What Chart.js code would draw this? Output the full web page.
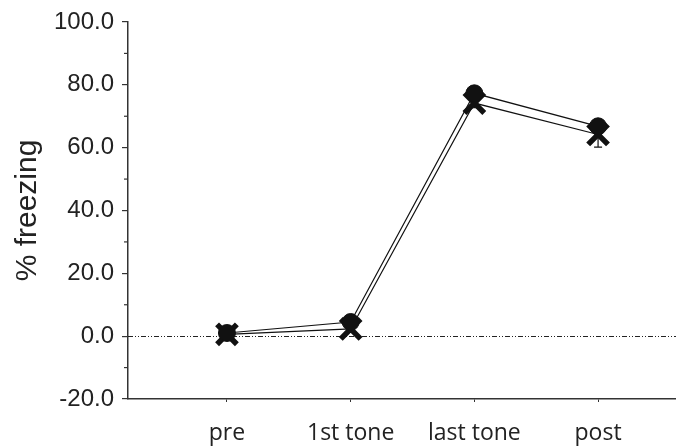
<!DOCTYPE html>
<html>
<head>
<meta charset="utf-8">
<script src="https://cdn.jsdelivr.net/npm/chart.js@4/dist/chart.umd.min.js"></script>
<style>
  html, body { margin: 0; padding: 0; background: #fff; }
  #wrap { width: 676px; height: 446px; }
</style>
</head>
<body>
<div id="wrap"><canvas id="c" width="676" height="446"></canvas></div>
<script>
// Phases of the session and mean % freezing for each group
const phases = ['pre', '1st tone', 'last tone', 'post'];
const phasePos = [1, 2, 3, 4];
const groupCircle = [1.0, 4.5, 77.3, 66.8];
const groupCross = [0.6, 2.3, 74.2, 64.2];
// standard error of the mean
const semCircle = [0.5, 1.0, 1.2, 1.5];
const semCross = [0.4, 0.8, 1.5, 4.0];
const yTicks = [-20, 0, 20, 40, 60, 80, 100];

const INK = '#111';

// Error bars (below each point) and the zero reference line
const extras = {
  id: 'extras',
  beforeDatasetsDraw(chart) {
    const { ctx, chartArea, scales: { x, y } } = chart;
    ctx.save();
    // zero line: dash-dot-dot
    const y0 = Math.round(y.getPixelForValue(0)) + 0.5;
    ctx.strokeStyle = '#222';
    ctx.lineWidth = 1;
    ctx.setLineDash([5, 2, 1, 2, 1, 2]);
    ctx.beginPath();
    ctx.moveTo(chartArea.left, y0);
    ctx.lineTo(chartArea.right, y0);
    ctx.stroke();
    ctx.setLineDash([]);
    // error bars
    const groups = [[groupCircle, semCircle], [groupCross, semCross]];
    ctx.strokeStyle = INK;
    ctx.lineWidth = 1.2;
    groups.forEach(([vals, errs]) => {
      vals.forEach((v, i) => {
        const px = x.getPixelForValue(phasePos[i]);
        const top = y.getPixelForValue(v);
        const bot = y.getPixelForValue(v - errs[i]);
        ctx.beginPath();
        ctx.moveTo(px, top);
        ctx.lineTo(px, bot);
        ctx.moveTo(px - 4, bot);
        ctx.lineTo(px + 4, bot);
        ctx.stroke();
      });
    });
    ctx.restore();
  },
  afterDraw(chart) {
    // minor ticks on the y axis
    const { ctx, scales: { y } } = chart;
    ctx.save();
    ctx.strokeStyle = '#333';
    ctx.lineWidth = 1.2;
    for (let v = -10; v <= 90; v += 20) {
      const py = y.getPixelForValue(v);
      ctx.beginPath();
      ctx.moveTo(y.right - 4, py);
      ctx.lineTo(y.right, py);
      ctx.stroke();
    }
    ctx.restore();
  }
};

new Chart(document.getElementById('c'), {
  type: 'line',
  data: {
    datasets: [
      {
        label: 'circle',
        data: phasePos.map((p, i) => ({ x: p, y: groupCircle[i] })),
        borderColor: INK,
        borderWidth: 1.2,
        pointStyle: 'circle',
        pointRadius: 8.5,
        pointBackgroundColor: INK,
        pointBorderColor: INK,
        pointBorderWidth: 1,
        tension: 0,
        order: 1
      },
      {
        label: 'cross',
        data: phasePos.map((p, i) => ({ x: p, y: groupCross[i] })),
        borderColor: INK,
        borderWidth: 1.2,
        pointStyle: 'crossRot',
        pointRadius: 14,
        pointBorderColor: INK,
        pointBorderWidth: 5.5,
        tension: 0,
        order: 2
      }
    ]
  },
  options: {
    responsive: false,
    animation: false,
    devicePixelRatio: 1,
    layout: { autoPadding: false, padding: { top: 22, right: 0, bottom: 0, left: 0 } },
    plugins: { legend: { display: false }, tooltip: { enabled: false } },
    scales: {
      x: {
        type: 'linear',
        min: 0.2,
        max: 4.63,
        afterBuildTicks(scale) { scale.ticks = phasePos.map(v => ({ value: v })); },
        afterFit(scale) { scale.height = 47; scale.paddingRight = 0; scale.paddingLeft = 0; },
        border: { display: true, color: '#333', width: 1.5 },
        grid: { display: true, drawOnChartArea: false, drawTicks: true, tickLength: 3, color: '#333' },
        ticks: {
          autoSkip: false,
          maxRotation: 0,
          padding: 18,
          color: '#222',
          font: { family: '"Open Sans", sans-serif', size: 23 },
          callback: (v) => phases[phasePos.indexOf(v)] ?? ''
        }
      },
      y: {
        min: -20,
        max: 100,
        afterBuildTicks(scale) { scale.ticks = yTicks.map(v => ({ value: v })); },
        afterFit(scale) { scale.width = 128; scale.paddingTop = 0; scale.paddingBottom = 0; },
        border: { display: true, color: '#333', width: 1.5 },
        grid: { display: true, drawOnChartArea: false, drawTicks: true, tickLength: 6, color: '#333', lineWidth: 1.2 },
        ticks: {
          padding: 8,
          color: '#222',
          font: { family: '"Liberation Sans", Arial, sans-serif', size: 24 },
          callback: (v) => Number(v).toFixed(1)
        },
        title: {
          display: true,
          text: '% freezing',
          color: '#222',
          padding: { top: 10, bottom: 0 },
          font: { family: '"Liberation Sans", Arial, sans-serif', size: 30 }
        }
      }
    }
  },
  plugins: [extras]
});
</script>
</body>
</html>
